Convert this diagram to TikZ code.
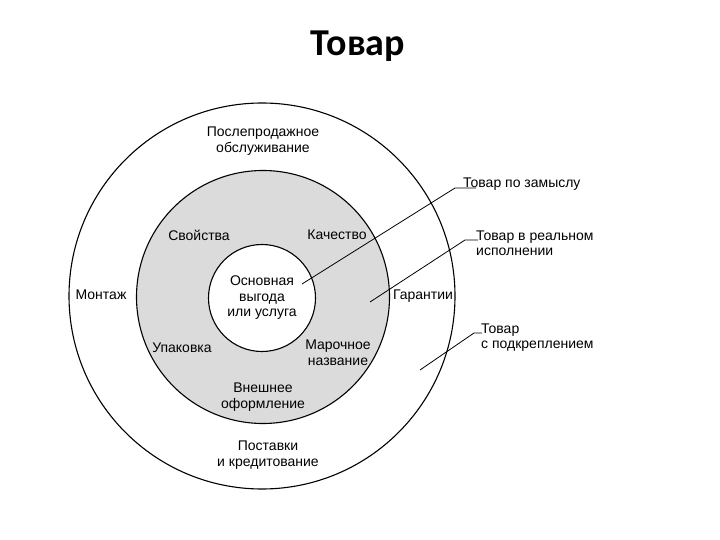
\documentclass[tikz,border=0pt]{standalone}
\usepackage{fontspec}
\setmainfont{Liberation Sans}
\newfontfamily\titlefont{Carlito}
\usetikzlibrary{positioning}

\begin{document}
\begin{tikzpicture}[
    x=1pt, y=-1pt,
    font=\fontsize{14}{15.5}\selectfont,
    ring/.style={circle, draw=black, line width=1.1pt, inner sep=0pt},
    lbl/.style={align=center, inner sep=1pt},
    side/.style={align=left, inner sep=1pt, anchor=base west},
    leader/.style={draw=black, line width=0.8pt}
  ]
  \useasboundingbox (0,0) rectangle (720,540);
  %---- TITLE ----
  \node[font=\titlefont\bfseries\fontsize{38}{40}\selectfont] (title) at (358,46) {Товар};
  %---- CIRCLES ----
  \node[ring, minimum size=386pt] (outer) at (262,296) {};
  \node[ring, fill=black!14, minimum size=253pt] (mid) at (263,297) {};
  \node[ring, fill=white, minimum size=107pt] (core) at (262,298) {};
  %---- CORE ----
  \node[lbl] (osn) at (262,298) {Основная\\выгода\\или услуга};
  %---- MIDDLE RING ----
  \node[lbl] (svoi)  at (199,235) {Свойства};
  \node[lbl] (kach)  at (337,235) {Качество};
  \node[lbl] (upak)  at (182,348) {Упаковка};
  \node[lbl] (marka) at (338,353) {Марочное\\название};
  \node[lbl] (vnesh) at (263,397) {Внешнее\\оформление};
  %---- OUTER RING ----
  \node[lbl] (posle) at (263,141) {Послепродажное\\обслуживание};
  \node[lbl] (mont)  at (101,295) {Монтаж};
  \node[lbl] (gar)   at (423,296) {Гарантии};
  \node[lbl] (post)  at (268,455) {Поставки\\и кредитование};
  %---- SIDE LABELS (base = last line) ----
  \node[side] (zamysel) at (462,188) {Товар по замыслу};
  \node[side] (real)    at (475,255.5) {Товар в реальном\\исполнении};
  \node[side] (podkr)   at (480,348.5) {Товар\\с подкреплением};
  \coordinate (tipz) at (302,284);
  \coordinate (tipr) at (370,302);
  \coordinate (tipp) at (420,370);
  \draw[leader] (tipz) -- ([xshift=-7pt]zamysel.base west) -- ([xshift=14pt]zamysel.base west);
  \draw[leader] (tipr) -- ([xshift=-10pt,yshift=15.5pt]real.base west) -- ([xshift=3pt,yshift=15.5pt]real.base west);
  \draw[leader] (tipp) -- ([xshift=-6pt,yshift=15.5pt]podkr.base west) -- ([xshift=2pt,yshift=15.5pt]podkr.base west);
\end{tikzpicture}
\end{document}
